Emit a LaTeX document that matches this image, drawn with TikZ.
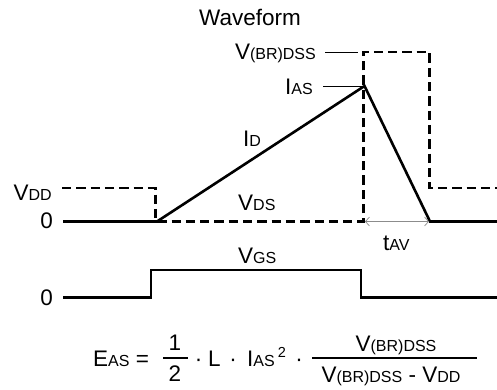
\documentclass[tikz,border=0pt]{standalone}
\usepackage{fontspec}
\setmainfont{Liberation Sans}
\usetikzlibrary{arrows.meta}
\newcommand\lsub[1]{{\fontsize{16}{16}\selectfont #1}}
\newcommand\lsup[1]{\raisebox{8.5pt}{\fontsize{14.5}{14.5}\selectfont #1}}
\begin{document}
\begin{tikzpicture}[x=1pt,y=-1pt,
  wave/.style={line width=2.6pt},
  dwave/.style={line width=2.6pt,dash pattern=on 9.3pt off 5pt},
  leader/.style={line width=0.8pt},
  fbar/.style={line width=1.6pt},
  lbl/.style={font=\fontsize{22.5}{26}\selectfont, inner sep=0pt},
  tav/.style={draw=black!45, line width=0.7pt,
    {Straight Barb[length=4pt,width=9pt]}-{Straight Barb[length=4pt,width=9pt]}}]
\useasboundingbox (0,0) rectangle (497,390);
% drain current
\coordinate (a0) at (63,221.5);
\coordinate (a1) at (157,221.5);
\coordinate (pk) at (364.5,86);
\coordinate (a2) at (430,221.5);
\coordinate (a3) at (497,221.5);
\draw[wave] (a0) -- (a1) -- (pk) -- (a2) -- (a3);
% drain-source voltage
\coordinate (d0) at (62,188);
\coordinate (d1) at (155.5,188);
\coordinate (d2) at (155.5,221.5);
\coordinate (d3) at (363.5,221.5);
\coordinate (d4) at (363.5,52);
\coordinate (d5) at (429.5,52);
\coordinate (d6) at (429.5,188);
\coordinate (d7) at (497,188);
\draw[dwave] (d0) -- (d1) -- (d2) -- (d3) -- (d4) -- (d5) -- (d6) -- (d7);
% gate voltage
\coordinate (g0) at (63,297.5);
\coordinate (g1) at (151,297.5);
\coordinate (g2) at (151,270);
\coordinate (g3) at (361,270);
\coordinate (g4) at (361,297.5);
\coordinate (g5) at (497,297.5);
\draw[wave] (g0) -- (g1) -- (g2) -- (g3) -- (g4) -- (g5);
% leaders
\coordinate (l1a) at (325,52);
\coordinate (l1b) at (358,52);
\coordinate (l2a) at (323,86.5);
\coordinate (l2b) at (362,86.5);
\draw[leader] (l1a) -- (l1b);
\draw[leader] (l2a) -- (l2b);
% tAV arrow
\coordinate (t0) at (365,221.5);
\coordinate (t1) at (429,221.5);
\draw[tav] (t0) -- (t1);
% labels
\node[lbl, anchor=base] (title) at (250,26) {Waveform};
\node[lbl, anchor=base east] (lvbr) at (316,59.5) {V\lsub{(BR)DSS}};
\node[lbl, anchor=base east] (lias) at (313,95) {I\lsub{AS}};
\node[lbl, anchor=base west] (lid) at (243,146.5) {I\lsub{D}};
\node[lbl, anchor=base east] (lvdd) at (52,200) {V\lsub{DD}};
\node[lbl, anchor=base east] (lz1) at (53,228.5) {0};
\node[lbl, anchor=base west] (lvds) at (238,210) {V\lsub{DS}};
\node[lbl, anchor=base west] (ltav) at (383,250) {t\lsub{AV}};
\node[lbl, anchor=base west] (lvgs) at (238,263) {V\lsub{GS}};
\node[lbl, anchor=base east] (lz2) at (53,305) {0};
% formula
\node[lbl, anchor=base west] (feas) at (93,366) {E\lsub{AS} =};
\node[lbl, anchor=base] (fn1) at (175,350) {1};
\node[lbl, anchor=base] (fd1) at (175,381) {2};
\coordinate (b1a) at (163,358);
\coordinate (b1b) at (188,358);
\draw[fbar] (b1a) -- (b1b);
\node[lbl, anchor=base] (fdot1) at (198.5,366) {·};
\node[lbl, anchor=base west] (fl) at (208,366) {L};
\node[lbl, anchor=base] (fdot2) at (233,366) {·};
\node[lbl, anchor=base west] (fias) at (247,366) {I\lsub{AS}\hspace{3pt}\lsup{2}};
\node[lbl, anchor=base] (fdot3) at (299,366) {·};
\node[lbl, anchor=base] (fn2) at (396,351) {V\lsub{(BR)DSS}};
\node[lbl, anchor=base] (fd2) at (391,382) {V\lsub{(BR)DSS} - V\lsub{DD}};
\coordinate (b2a) at (312,358);
\coordinate (b2b) at (477,358);
\draw[fbar] (b2a) -- (b2b);
\end{tikzpicture}
\end{document}
